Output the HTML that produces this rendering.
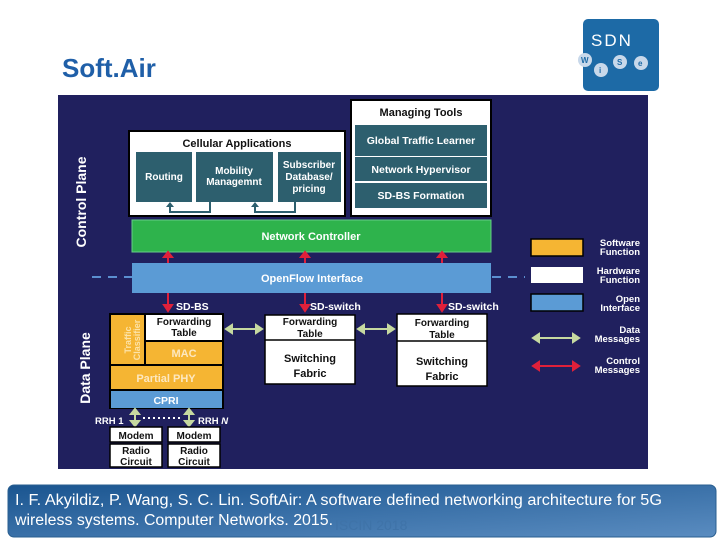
<!DOCTYPE html>
<html><head><meta charset="utf-8"><style>
body{margin:0;width:720px;height:540px;background:#fff;overflow:hidden;font-family:"Liberation Sans",sans-serif}
</style></head><body>
<svg width="720" height="540" xmlns="http://www.w3.org/2000/svg" font-family="Liberation Sans, sans-serif" font-weight="bold">
<defs>
<linearGradient id="fg" x1="0" y1="0" x2="1" y2="1"><stop offset="0" stop-color="#1a5590"/><stop offset="1" stop-color="#5a8cc0"/></linearGradient>
</defs>
<text x="62" y="77" font-size="26" fill="#1f5fa8">Soft.Air</text>
<!-- logo -->
<rect x="583" y="19" width="76" height="72" rx="5" fill="#1d6aa6"/>
<text x="591" y="46" font-size="17" font-weight="normal" fill="#fff" letter-spacing="2">SDN</text>
<circle cx="585" cy="60" r="7" fill="#c8d8ea"/><text x="581" y="63" font-size="8" fill="#1d6aa6">W</text>
<circle cx="601" cy="70" r="7" fill="#c8d8ea"/><text x="599" y="73" font-size="8" fill="#1d6aa6">i</text>
<circle cx="620" cy="62" r="7" fill="#c8d8ea"/><text x="617" y="65" font-size="8" fill="#1d6aa6">S</text>
<circle cx="641" cy="63" r="7" fill="#c8d8ea"/><text x="638" y="66" font-size="8" fill="#1d6aa6">e</text>
<!-- diagram bg -->
<rect x="58" y="95" width="590" height="374" fill="#20205e"/>
<text transform="translate(86,202) rotate(-90)" font-size="14" fill="#fff" text-anchor="middle">Control Plane</text>
<text transform="translate(90,368) rotate(-90)" font-size="14" fill="#fff" text-anchor="middle">Data Plane</text>
<!-- cellular apps -->
<rect x="129" y="131" width="216" height="85" fill="#fff" stroke="#000" stroke-width="2"/>
<text x="237" y="147" font-size="11" text-anchor="middle" fill="#111">Cellular Applications</text>
<g fill="#2d5f6e"><rect x="136" y="152" width="56" height="50"/><rect x="196" y="152" width="77" height="50"/><rect x="278" y="152" width="63" height="50"/></g>
<g fill="#fff" font-size="10" text-anchor="middle">
<text x="164" y="180">Routing</text>
<text x="234" y="174">Mobility</text><text x="234" y="185">Managemnt</text>
<text x="309" y="168">Subscriber</text><text x="309" y="180">Database/</text><text x="309" y="192">pricing</text>
</g>
<g stroke="#2d5f6e" stroke-width="2" fill="none"><path d="M210 202V212H170V206"/><path d="M295 202V212H255V206"/></g>
<path d="M166 207l4-5 4 5z M251 207l4-5 4 5z" fill="#2d5f6e"/>
<!-- managing tools -->
<rect x="351" y="100" width="140" height="116" fill="#fff" stroke="#000" stroke-width="2"/>
<text x="421" y="116" font-size="11" text-anchor="middle" fill="#111">Managing Tools</text>
<g fill="#2d5f6e"><rect x="355" y="125" width="132" height="31"/><rect x="355" y="157" width="132" height="24"/><rect x="355" y="183" width="132" height="25"/></g>
<g fill="#fff" font-size="10.5" text-anchor="middle">
<text x="421" y="144">Global Traffic Learner</text><text x="421" y="173">Network Hypervisor</text><text x="421" y="199">SD-BS Formation</text></g>
<!-- controller -->
<rect x="132" y="220" width="359" height="32" fill="#2eb34c" stroke="#6c8" stroke-width="1"/>
<text x="311" y="240" font-size="11" fill="#fff" text-anchor="middle">Network Controller</text>
<line x1="92" y1="277" x2="525" y2="277" stroke="#5b8fd0" stroke-width="2" stroke-dasharray="9,7"/>
<rect x="132" y="263" width="359" height="30" fill="#5b9bd5"/>
<text x="312" y="282" font-size="11" fill="#fff" text-anchor="middle">OpenFlow Interface</text>
<g fill="#e0203a" stroke="#e0203a" stroke-width="2">
<line x1="168" y1="263" x2="168" y2="255"/><path d="M164 257l4-5 4 5z"/>
<line x1="305" y1="263" x2="305" y2="255"/><path d="M301 257l4-5 4 5z"/>
<line x1="442" y1="263" x2="442" y2="255"/><path d="M438 257l4-5 4 5z"/>
<line x1="168" y1="293" x2="168" y2="306"/><path d="M164 305l4 6 4-6z"/>
<line x1="305" y1="293" x2="305" y2="306"/><path d="M301 305l4 6 4-6z"/>
<line x1="442" y1="293" x2="442" y2="306"/><path d="M438 305l4 6 4-6z"/>
</g>
<g fill="#fff" font-size="10.5"><text x="176" y="310">SD-BS</text><text x="310" y="310">SD-switch</text><text x="448" y="310">SD-switch</text></g>
<!-- SD-BS -->
<rect x="109" y="313" width="115" height="96" fill="#000"/>
<rect x="111" y="315" width="33" height="49" fill="#f5b533"/>
<text transform="translate(131,340) rotate(-90)" font-size="9" fill="#fde3a8" text-anchor="middle">Traffic</text>
<text transform="translate(140,340) rotate(-90)" font-size="9" fill="#fde3a8" text-anchor="middle">Classifier</text>
<rect x="146" y="315" width="76" height="25" fill="#fff"/>
<text x="184" y="325" font-size="10" text-anchor="middle" fill="#111">Forwarding</text><text x="184" y="336" font-size="10" text-anchor="middle" fill="#111">Table</text>
<rect x="146" y="342" width="76" height="22" fill="#f5b533"/><text x="184" y="357" font-size="11" fill="#fde8c0" text-anchor="middle">MAC</text>
<rect x="111" y="366" width="111" height="23" fill="#f5b533"/><text x="166" y="382" font-size="11" fill="#fde8c0" text-anchor="middle">Partial PHY</text>
<rect x="111" y="391" width="111" height="17" fill="#5b9bd5"/><text x="166" y="404" font-size="10.5" fill="#fff" text-anchor="middle">CPRI</text>
<!-- switches -->
<g stroke="#000" stroke-width="1.5" fill="#fff">
<rect x="265" y="315" width="90" height="69"/><line x1="265" y1="340" x2="355" y2="340"/>
<rect x="397" y="314" width="90" height="72"/><line x1="397" y1="341" x2="487" y2="341"/></g>
<g font-size="10" text-anchor="middle" fill="#111">
<text x="310" y="325">Forwarding</text><text x="310" y="337">Table</text>
<text x="310" y="362" font-size="11">Switching</text><text x="310" y="377" font-size="11">Fabric</text>
<text x="442" y="326">Forwarding</text><text x="442" y="338">Table</text>
<text x="442" y="365" font-size="11">Switching</text><text x="442" y="380" font-size="11">Fabric</text></g>
<g stroke="#c6d9a0" stroke-width="2" fill="#c6d9a0">
<line x1="230" y1="329" x2="258" y2="329"/><path d="M232 325l-6 4 6 4z M256 325l6 4-6 4z"/>
<line x1="362" y1="329" x2="390" y2="329"/><path d="M364 325l-6 4 6 4z M388 325l6 4-6 4z"/>
<line x1="135" y1="413" x2="135" y2="422"/><path d="M131 414l4-5 4 5z M131 421l4 5 4-5z"/>
<line x1="189" y1="413" x2="189" y2="422"/><path d="M185 414l4-5 4 5z M185 421l4 5 4-5z"/>
</g>
<line x1="143" y1="418" x2="183" y2="418" stroke="#fff" stroke-width="2" stroke-dasharray="2,3"/>
<g fill="#fff" font-size="9.5"><text x="95" y="424">RRH 1</text><text x="198" y="424">RRH <tspan font-style="italic">N</tspan></text></g>
<g fill="#fff" stroke="#000" stroke-width="1.5">
<rect x="110" y="427" width="52" height="15"/><rect x="110" y="444" width="52" height="23"/>
<rect x="168" y="427" width="52" height="15"/><rect x="168" y="444" width="52" height="23"/></g>
<g font-size="10" text-anchor="middle" fill="#111">
<text x="136" y="439">Modem</text><text x="136" y="454">Radio</text><text x="136" y="465">Circuit</text>
<text x="194" y="439">Modem</text><text x="194" y="454">Radio</text><text x="194" y="465">Circuit</text></g>
<!-- legend -->
<rect x="531" y="239" width="52" height="17" fill="#f5b533" stroke="#000" stroke-width="1.5"/>
<rect x="531" y="267" width="52" height="16" fill="#fff"/>
<rect x="531" y="294" width="52" height="17" fill="#5b9bd5" stroke="#000" stroke-width="1.5"/>
<g fill="#fff" font-size="9.5" text-anchor="end">
<text x="640" y="246">Software</text><text x="640" y="255">Function</text>
<text x="640" y="274">Hardware</text><text x="640" y="283">Function</text>
<text x="640" y="302">Open</text><text x="640" y="311">Interface</text>
<text x="640" y="333">Data</text><text x="640" y="342">Messages</text>
<text x="640" y="364">Control</text><text x="640" y="373">Messages</text></g>
<g stroke="#c6d9a0" stroke-width="2" fill="#c6d9a0"><line x1="537" y1="338" x2="575" y2="338"/><path d="M539 334l-6 4 6 4z M573 334l6 4-6 4z"/></g>
<g stroke="#e0203a" stroke-width="2" fill="#e0203a"><line x1="537" y1="366" x2="575" y2="366"/><path d="M539 362l-6 4 6 4z M573 362l6 4-6 4z"/></g>
<!-- footer -->
<rect x="8" y="485" width="708" height="52" rx="6" fill="url(#fg)" stroke="#2a5f90"/>
<text x="335" y="530" font-size="14" fill="#3f73a8" font-weight="normal">ISCIN 2018</text>
<g fill="#fff" font-size="15.5" font-weight="normal">
<text x="15" y="505" textLength="647" lengthAdjust="spacingAndGlyphs">I. F. Akyildiz, P. Wang, S. C. Lin. SoftAir: A software defined networking architecture for 5G</text>
<text x="15" y="525" textLength="318" lengthAdjust="spacingAndGlyphs">wireless systems. Computer Networks. 2015.</text></g>
</svg>
</body></html>
